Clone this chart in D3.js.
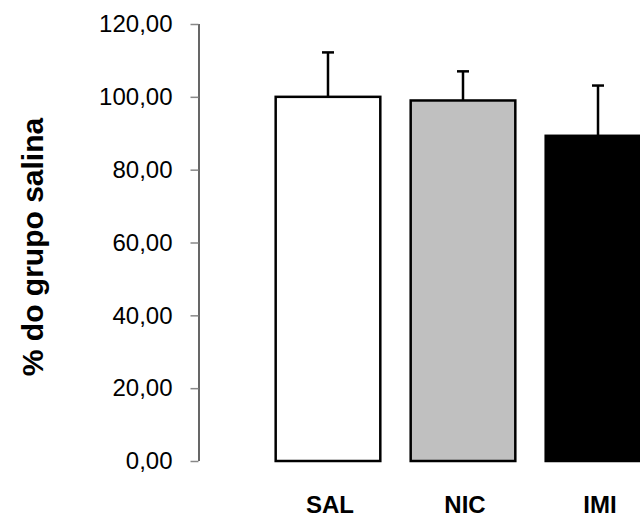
<!DOCTYPE html>
<html>
<head>
<meta charset="utf-8">
<script src="https://cdn.jsdelivr.net/npm/d3@7"></script>
<style>
  html, body { margin: 0; padding: 0; background: #fff; }
  svg { display: block; }
</style>
</head>
<body>
<svg id="chart" width="640" height="520"></svg>
<script>
const categories = ["SAL", "NIC", "IMI"];
const means = [100.0, 99.0, 89.3];
const errors = [12.2, 8.0, 13.8];
const fills = ["#ffffff", "#c0c0c0", "#000000"];
const yTicks = [0, 20, 40, 60, 80, 100, 120];
const yTitle = "% do grupo salina";

const svg = d3.select("#chart");
const y = d3.scaleLinear().domain([0, 120]).range([461, 24]);
const x = d3.scaleBand().domain(categories).range([245.3, 680.7])
  .paddingInner(0.225).paddingOuter(0.225);

// y axis
const yAxis = d3.axisLeft(y).tickValues(yTicks).tickSize(8).tickPadding(18)
  .tickFormat(d => d3.format(".2f")(d).replace(".", ","));
const gy = svg.append("g").attr("transform", "translate(198.5,0)").call(yAxis);
gy.attr("font-size", null).attr("font-family", null);
gy.select(".domain").attr("stroke", "#000").attr("stroke-width", 1.2)
  .attr("d", `M0.5,${y(120)}V${y(0)}`);
gy.selectAll(".tick line").attr("stroke", "#888").attr("stroke-width", 1.5);
gy.selectAll(".tick text")
  .style("font-family", "'Liberation Sans', Arial, sans-serif")
  .style("font-size", "24px").attr("fill", "#000");

// bars
const data = categories.map((c, i) => ({c, m: means[i], e: errors[i], f: fills[i]}));
const cap = 12;
const g = svg.append("g");
g.selectAll("line.err").data(data).join("line").attr("class", "err")
  .attr("x1", d => x(d.c) + x.bandwidth() / 2).attr("x2", d => x(d.c) + x.bandwidth() / 2)
  .attr("y1", d => y(d.m)).attr("y2", d => y(d.m + d.e))
  .attr("stroke", "#000").attr("stroke-width", 2.5);
g.selectAll("line.cap").data(data).join("line").attr("class", "cap")
  .attr("x1", d => x(d.c) + x.bandwidth() / 2 - cap / 2).attr("x2", d => x(d.c) + x.bandwidth() / 2 + cap / 2)
  .attr("y1", d => y(d.m + d.e)).attr("y2", d => y(d.m + d.e))
  .attr("stroke", "#000").attr("stroke-width", 2.5);
g.selectAll("rect").data(data).join("rect")
  .attr("x", d => x(d.c)).attr("width", x.bandwidth())
  .attr("y", d => y(d.m)).attr("height", d => y(0) - y(d.m))
  .attr("fill", d => d.f).attr("stroke", "#000").attr("stroke-width", 2.5);

// category labels
svg.append("g").selectAll("text").data(categories).join("text")
  .attr("x", d => x(d) + x.bandwidth() / 2 + 2).attr("y", 513)
  .attr("text-anchor", "middle")
  .style("font-family", "'Liberation Sans', Arial, sans-serif")
  .style("font-weight", "bold").style("font-size", "24px").text(d => d);

// y title
svg.append("text")
  .attr("transform", "translate(43,247) rotate(-90)")
  .attr("text-anchor", "middle")
  .style("font-family", "'Liberation Sans', Arial, sans-serif")
  .style("font-weight", "bold").style("font-size", "30px").text(yTitle);
</script>
</body>
</html>
